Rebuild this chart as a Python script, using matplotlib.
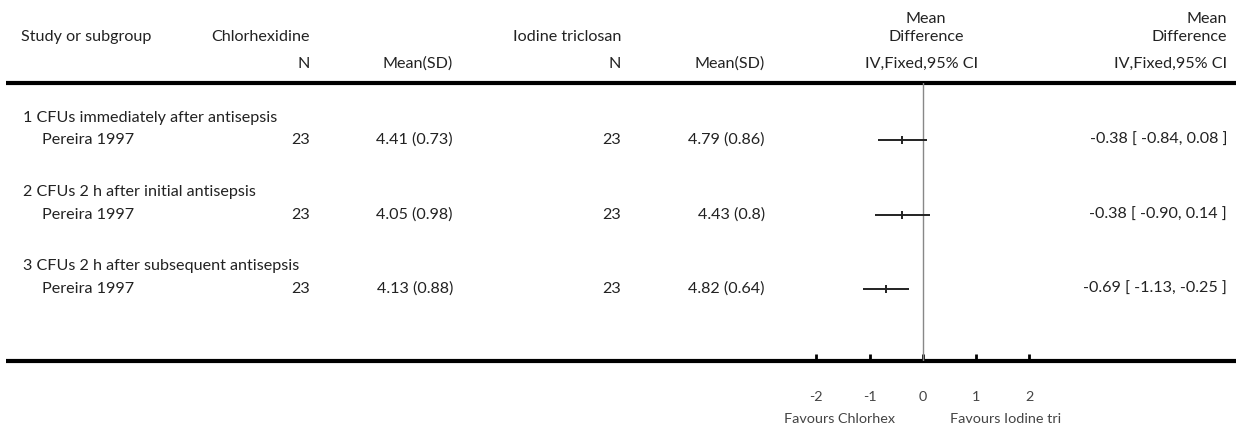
import matplotlib
matplotlib.use("Agg")
import matplotlib.pyplot as plt

plt.rcParams["font.family"] = ["Lato", "DejaVu Sans"]

# data
subgroups = ["1 CFUs immediately after antisepsis",
             "2 CFUs 2 h after initial antisepsis",
             "3 CFUs 2 h after subsequent antisepsis"]
studies = ["Pereira 1997", "Pereira 1997", "Pereira 1997"]
n_chx = [23, 23, 23]
mean_chx = ["4.41 (0.73)", "4.05 (0.98)", "4.13 (0.88)"]
n_iod = [23, 23, 23]
mean_iod = ["4.79 (0.86)", "4.43 (0.8)", "4.82 (0.64)"]
md = [-0.38, -0.38, -0.69]
lo = [-0.84, -0.90, -1.13]
hi = [0.08, 0.14, -0.25]
ticks = [-2, -1, 0, 1, 2]
tick_labels = ["-2", "-1", "0", "1", "2"]

W, H = 1236, 429
fig = plt.figure(figsize=(W / 100, H / 100), dpi=100)
ax = fig.add_axes([0, 0, 1, 1])
ax.set_xlim(0, W); ax.set_ylim(H, 0); ax.axis("off")

FS = 11.6
SFS = 10.4
TC = "#222222"
HDR1, HDR2 = 37, 64
TOP_LINE, BOT_LINE = 83, 360.5
SUB_Y = [118, 192, 266]
ROW_Y = [140, 215, 289]


def t(x, y, s, ha="left", size=FS, color=TC):
    ax.text(x, y, s, ha=ha, va="center", fontsize=size, color=color)


# header
t(21, HDR1, "Study or subgroup")
t(310, HDR1, "Chlorhexidine", ha="right")
t(621, HDR1, "Iodine triclosan", ha="right")
t(926, 19, "Mean", ha="center")
t(926, HDR1, "Difference", ha="center")
t(1227, 19, "Mean", ha="right")
t(1227, HDR1, "Difference", ha="right")
t(310, HDR2, "N", ha="right")
t(453, HDR2, "Mean(SD)", ha="right")
t(621, HDR2, "N", ha="right")
t(765, HDR2, "Mean(SD)", ha="right")
t(922, HDR2, "IV,Fixed,95% CI", ha="center")
t(1227, HDR2, "IV,Fixed,95% CI", ha="right")

ax.plot([6, W], [TOP_LINE, TOP_LINE], color="black", lw=3, solid_capstyle="butt")
ax.plot([6, W], [BOT_LINE, BOT_LINE], color="black", lw=3, solid_capstyle="butt")

for i in range(len(studies)):
    t(23, SUB_Y[i], subgroups[i])
    t(42, ROW_Y[i], studies[i])
    t(310, ROW_Y[i], str(n_chx[i]), ha="right")
    t(453, ROW_Y[i], mean_chx[i], ha="right")
    t(621, ROW_Y[i], str(n_iod[i]), ha="right")
    t(765, ROW_Y[i], mean_iod[i], ha="right")
    t(1227, ROW_Y[i], f"{md[i]:.2f} [ {lo[i]:.2f}, {hi[i]:.2f} ]", ha="right")

# forest axes: x in data units, y in pixel rows
x_left, x_right = 816.3, 1029.1
fax = fig.add_axes([x_left / W, 1 - BOT_LINE / H, (x_right - x_left) / W,
                    (BOT_LINE - TOP_LINE) / H])
fax.set_xlim(-2, 2); fax.set_ylim(BOT_LINE, TOP_LINE)
fax.patch.set_alpha(0)
for s in fax.spines.values():
    s.set_visible(False)
fax.axvline(0, color="#888888", lw=1)
fax.hlines(ROW_Y, lo, hi, color="#222222", lw=1.4)
fax.plot(md, ROW_Y, ls="none", marker="|", ms=6, mew=1.4, color="#222222")
fax.set_yticks([])
fax.set_xticks(ticks)
fax.set_xticklabels(tick_labels)
fax.tick_params(axis="x", direction="in", length=5, width=2, color="black",
                pad=22, labelsize=SFS, labelcolor="#444444")

t(895, 419, "Favours Chlorhex", ha="right", size=SFS, color="#444444")
t(950, 419, "Favours Iodine tri", size=SFS, color="#444444")

fig.savefig("out.png", dpi=100)
